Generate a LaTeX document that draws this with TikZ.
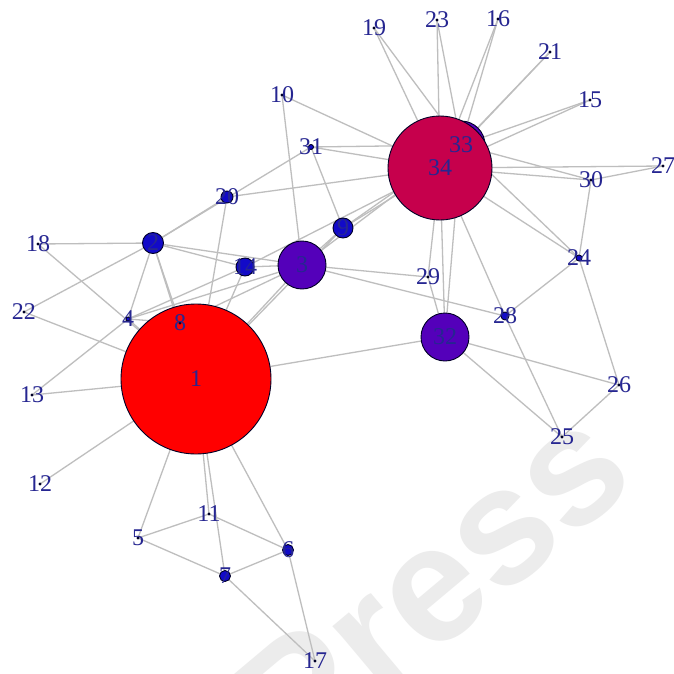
\documentclass[tikz,border=0pt]{standalone}
\usepackage{fontspec}
\setmainfont{Liberation Serif}
\newfontfamily\wmfont{Liberation Sans}
\pgfdeclarelayer{wm}
\pgfdeclarelayer{edges}
\pgfsetlayers{wm,edges,main}
\definecolor{edgegray}{RGB}{190,190,190}
\definecolor{labelnavy}{RGB}{38,38,145}
\definecolor{cred}{RGB}{255,0,0}
\definecolor{ccrimson}{RGB}{198,0,76}
\definecolor{cpurple}{RGB}{84,0,186}
\definecolor{cblue}{RGB}{18,10,200}
\definecolor{wmgray}{RGB}{236,236,236}
\begin{document}
\begin{tikzpicture}[x=1pt,y=-1pt,
  vtx/.style={circle, draw=black!85!blue, line width=0.9pt, inner sep=0pt, outer sep=0pt},
  lbl/.style={text=labelnavy, font=\fontsize{24}{24}\selectfont, inner sep=0pt},
  link/.style={draw=edgegray, line width=1.3pt}]
\useasboundingbox (0,0) rectangle (674,674);

% vertices, drawn in index order (size ~ betweenness)
\newcommand\vx[5]{\node[vtx, minimum size=#4pt, fill=#5] (v#1) at (#2,#3) {};}
\vx{1}{196}{379}{150}{cred}
\vx{2}{153}{243}{21}{cblue}
\vx{3}{302}{265}{48}{cpurple}
\vx{4}{128}{319}{4}{cblue}
\vx{5}{138}{538}{2}{cblue}
\vx{6}{288}{550}{11}{cblue}
\vx{7}{225}{576}{11}{cblue}
\vx{8}{180}{323}{2}{cblue}
\vx{9}{343}{228}{20}{cblue}
\vx{10}{282}{95}{2}{cblue}
\vx{11}{209}{514}{2}{cblue}
\vx{12}{40}{484}{2}{cblue}
\vx{13}{32}{395}{2}{cblue}
\vx{14}{245}{267}{18}{cblue}
\vx{15}{590}{100}{2}{cblue}
\vx{16}{498}{19}{2}{cblue}
\vx{17}{315}{661}{2}{cblue}
\vx{18}{38}{244}{2}{cblue}
\vx{19}{374}{28}{2}{cblue}
\vx{20}{227}{197}{12}{cblue}
\vx{21}{550}{52}{2}{cblue}
\vx{22}{24}{312}{2}{cblue}
\vx{23}{437}{20}{2}{cblue}
\vx{24}{579}{258}{6}{cblue}
\vx{25}{562}{437}{2}{cblue}
\vx{26}{619}{385}{2}{cblue}
\vx{27}{663}{166}{2}{cblue}
\vx{28}{505}{316}{8}{cblue}
\vx{29}{428}{277}{2}{cblue}
\vx{30}{591}{180}{2}{cblue}
\vx{31}{311}{147}{5}{cblue}
\vx{32}{445}{337}{48}{cpurple}
\vx{33}{461}{145}{48}{cpurple}
\vx{34}{440}{168}{104}{ccrimson}

% vertex labels on top of everything
\foreach \i in {1,...,34} \node[lbl] (l\i) at (v\i) {\i};

% edges underneath the vertices
\begin{pgfonlayer}{edges}
\foreach \a/\b in {1/2,1/3,1/4,1/5,1/6,1/7,1/8,1/9,1/11,1/12,1/13,1/14,1/18,1/20,1/22,1/32,
  2/3,2/4,2/8,2/14,2/18,2/20,2/22,2/31,
  3/4,3/8,3/9,3/10,3/14,3/28,3/29,3/33,
  4/8,4/13,4/14,5/7,5/11,6/7,6/11,6/17,7/17,
  9/31,9/33,9/34,10/34,14/34,15/33,15/34,16/33,16/34,19/33,19/34,20/34,
  21/33,21/34,23/33,23/34,24/26,24/28,24/30,24/33,24/34,25/26,25/28,25/32,
  26/32,27/30,27/34,28/34,29/32,29/34,30/33,30/34,31/33,31/34,32/33,32/34,33/34}
  \draw[link] (v\a) -- (v\b);
\end{pgfonlayer}

% faint publisher mark in the background
\begin{pgfonlayer}{wm}
\fill[white] (0,0) rectangle (674,674);
\node[rotate=40, text=wmgray, font=\wmfont\bfseries\fontsize{165}{165}\selectfont, inner sep=0pt] (mark) at (432,584) {Press};
\end{pgfonlayer}
\end{tikzpicture}
\end{document}
